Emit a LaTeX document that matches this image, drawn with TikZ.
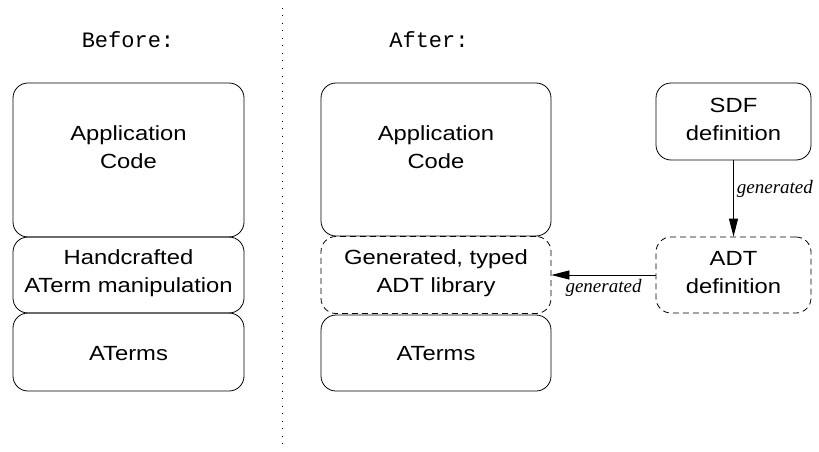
\documentclass[tikz,border=0pt]{standalone}
\usepackage{fontspec}
\setmainfont{Liberation Sans}
\newfontfamily\boxfont[FakeStretch=1.16]{Liberation Sans}
\newfontfamily\titlefont{Liberation Mono}
\newfontfamily\lblfont{Liberation Serif}
\usetikzlibrary{arrows.meta}
\begin{document}
\begin{tikzpicture}[x=1pt,y=-1pt,
  layer/.style={draw,line width=0.8pt,rounded corners=15pt,inner sep=0pt},
  dlayer/.style={layer,dash pattern=on 6pt off 4pt},
  btext/.style={align=center,inner sep=0pt,font=\boxfont\fontsize{20.5}{28}\selectfont},
  ttext/.style={inner sep=0pt,font=\titlefont\fontsize{22}{26}\selectfont},
  gtext/.style={inner sep=1pt,font=\lblfont\itshape\fontsize{19}{22}\selectfont},
  genarrow/.style={line width=0.8pt,-{Triangle[length=18pt,width=9pt]}}]
\useasboundingbox (0,0) rectangle (819,452);
% divider
\coordinate (dtop) at (282,8);
\coordinate (dbot) at (282,448);
\draw[line width=0.9pt,dash pattern=on 1pt off 6.5pt] (dtop) -- (dbot);
% titles
\node[ttext] (before) at (128,40) {Before:};
\node[ttext] (after) at (429,40) {After:};
% left stack
\node[layer,minimum width=231pt,minimum height=154pt] (lapp) at (128.5,160) {};
\node[layer,minimum width=231pt,minimum height=76pt] (lhand) at (128.5,275) {};
\node[layer,minimum width=231pt,minimum height=78pt] (lat) at (128.5,352) {};
\node[btext] (lappt) at (128.5,147) {Application\\Code};
\node[btext] (lhandt) at (128.5,273) {Handcrafted\\ATerm manipulation};
\node[btext] (latt) at (128.5,354) {ATerms};
% middle stack
\node[layer,minimum width=230pt,minimum height=153pt] (mapp) at (436,159.5) {};
\node[dlayer,minimum width=230pt,minimum height=77pt] (mgen) at (436,275) {};
\node[layer,minimum width=230pt,minimum height=76pt] (mat) at (436,353) {};
\node[btext] (mappt) at (436,147) {Application\\Code};
\node[btext] (mgent) at (436,273) {Generated, typed\\ADT library};
\node[btext] (matt) at (436,354) {ATerms};
% right
\node[layer,minimum width=155pt,minimum height=77pt] (sdf) at (733.5,121.5) {};
\node[dlayer,minimum width=155pt,minimum height=76pt] (adt) at (733.5,275) {};
\node[btext] (sdft) at (733.5,119) {SDF\\definition};
\node[btext] (adtt) at (733.5,273) {ADT\\definition};
% arrows
\draw[genarrow] (sdf.south) -- (adt.north)
  node[gtext,pos=0.38,right=2pt] (g1) {generated};
\draw[genarrow] (adt.west) -- (mgen.east)
  node[gtext,midway,below=3pt] (g2) {generated};
\end{tikzpicture}
\end{document}
